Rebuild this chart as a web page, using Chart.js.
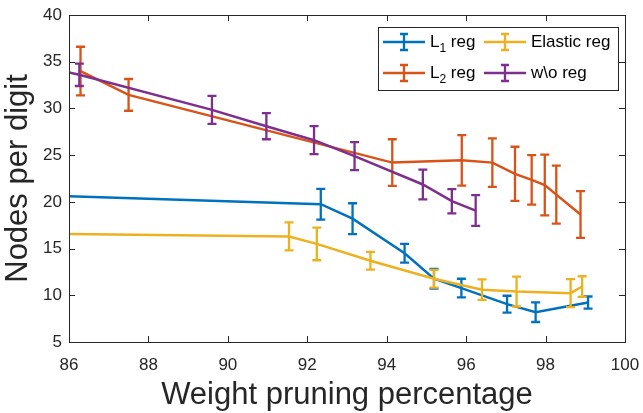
<!DOCTYPE html>
<html>
<head>
<meta charset="utf-8">
<script src="https://cdn.jsdelivr.net/npm/chart.js@4/dist/chart.umd.min.js"></script>
<style>
  html, body { margin: 0; padding: 0; background: #fff; }
</style>
</head>
<body>
<canvas id="chart" width="643" height="413"></canvas>
<script>
// ticks
const xTicks = [86, 88, 90, 92, 94, 96, 98, 100];
const yTicks = [5, 10, 15, 20, 25, 30, 35, 40];

// L1 reg
const l1X   = [86, 92.34, 93.14, 94.45, 95.19, 95.88, 97.03, 97.75, 99.07];
const l1Y   = [20.6, 19.75, 18.2, 14.5, 11.77, 10.77, 9.05, 8.19, 9.22];
const l1Err = [null, 1.65, 1.65, 1.0, 1.05, 1.0, 0.9, 1.05, 0.65];

// L2 reg
const l2X   = [86.29, 87.5, 94.14, 95.89, 96.66, 97.23, 97.65, 97.98, 98.27, 98.88];
const l2Y   = [34.0, 31.45, 24.2, 24.44, 24.2, 23.0, 22.35, 21.8, 20.77, 18.64];
const l2Err = [2.6, 1.7, 2.5, 2.7, 2.6, 2.9, 2.65, 3.25, 3.1, 2.5];

// Elastic reg
const elX   = [86, 91.54, 92.24, 93.59, 95.19, 96.4, 97.27, 98.63, 98.92];
const elY   = [16.57, 16.3, 15.5, 13.7, 11.77, 10.6, 10.4, 10.23, 10.94];
const elErr = [null, 1.5, 1.75, 0.95, 0.95, 1.1, 1.6, 1.5, 1.1];

// w\o reg
const woX   = [86, 86.26, 89.6, 90.97, 92.17, 93.19, 94.91, 95.64, 96.24];
const woY   = [33.86, 33.6, 29.85, 28.1, 26.6, 24.9, 21.86, 20.07, 19.07];
const woErr = [null, 1.2, 1.5, 1.4, 1.5, 1.5, 1.6, 1.3, 1.65];

const FONT = "'Liberation Sans', Arial, Helvetica, sans-serif";
const AXIS = '#262626';

function pts(xs, ys) {
  return xs.map((x, i) => ({ x: x, y: ys[i] }));
}

function series(label, color, xs, ys, errs, order) {
  return {
    label: label,
    data: pts(xs, ys),
    errs: errs,
    borderColor: color,
    backgroundColor: color,
    borderWidth: 2.5,
    pointRadius: 0,
    tension: 0,
    fill: false,
    order: order
  };
}

// error bars, drawn right after each dataset so the layering follows the lines
const errorBars = {
  id: 'errorBars',
  afterDatasetDraw(chart, args) {
    const ds = chart.data.datasets[args.index];
    if (!ds.errs) return;
    const { ctx, chartArea, scales } = chart;
    ctx.save();
    ctx.beginPath();
    ctx.rect(chartArea.left, chartArea.top, chartArea.right - chartArea.left, chartArea.bottom - chartArea.top);
    ctx.clip();
    ctx.strokeStyle = ds.borderColor;
    ctx.lineWidth = 2.3;
    ds.data.forEach((p, i) => {
      const e = ds.errs[i];
      if (e == null) return;
      const x = scales.x.getPixelForValue(p.x);
      const y1 = scales.y.getPixelForValue(p.y + e);
      const y2 = scales.y.getPixelForValue(p.y - e);
      ctx.beginPath();
      ctx.moveTo(x, y1); ctx.lineTo(x, y2);
      ctx.moveTo(x - 4.5, y1); ctx.lineTo(x + 4.5, y1);
      ctx.moveTo(x - 4.5, y2); ctx.lineTo(x + 4.5, y2);
      ctx.stroke();
    });
    ctx.restore();
  }
};

// box around the axes with inward ticks on all sides
const frame = {
  id: 'frame',
  afterDraw(chart) {
    const { ctx, chartArea: a, scales } = chart;
    ctx.save();
    ctx.strokeStyle = AXIS;
    ctx.lineWidth = 1;
    ctx.strokeRect(Math.round(a.left) + 0.5, Math.round(a.top) + 0.5,
      Math.round(a.right - a.left), Math.round(a.bottom - a.top));
    ctx.beginPath();
    xTicks.forEach(t => {
      const x = Math.round(scales.x.getPixelForValue(t)) + 0.5;
      ctx.moveTo(x, a.bottom); ctx.lineTo(x, a.bottom - 6);
      ctx.moveTo(x, a.top); ctx.lineTo(x, a.top + 6);
    });
    yTicks.forEach(t => {
      const y = Math.round(scales.y.getPixelForValue(t)) + 0.5;
      ctx.moveTo(a.left, y); ctx.lineTo(a.left + 6, y);
      ctx.moveTo(a.right, y); ctx.lineTo(a.right - 6, y);
    });
    ctx.stroke();
    ctx.restore();
  }
};

// legend box in the upper right, two columns
const boxLegend = {
  id: 'boxLegend',
  afterDraw(chart) {
    const { ctx, chartArea: a } = chart;
    const ds = chart.data.datasets;
    const right = a.right - 7, top = a.top + 12;
    const left = right - 240, bottom = top + 63;
    ctx.save();
    ctx.fillStyle = '#fff';
    ctx.fillRect(left, top, right - left, bottom - top);
    ctx.strokeStyle = '#262626';
    ctx.lineWidth = 1;
    ctx.strokeRect(Math.round(left) + 0.5, Math.round(top) + 0.5, right - left, bottom - top);

    const slots = [
      { i: 0, x: left + 5,   y: top + 15 },
      { i: 2, x: left + 106, y: top + 15 },
      { i: 1, x: left + 5,   y: top + 46 },
      { i: 3, x: left + 106, y: top + 46 }
    ];
    slots.forEach(s => {
      const d = ds[s.i];
      ctx.strokeStyle = d.borderColor;
      ctx.lineWidth = 2.5;
      ctx.beginPath();
      ctx.moveTo(s.x, s.y); ctx.lineTo(s.x + 42, s.y);
      ctx.stroke();
      const cx = s.x + 21;
      ctx.lineWidth = 2.3;
      ctx.beginPath();
      ctx.moveTo(cx, s.y - 8); ctx.lineTo(cx, s.y + 8);
      ctx.moveTo(cx - 4, s.y - 8); ctx.lineTo(cx + 4, s.y - 8);
      ctx.moveTo(cx - 4, s.y + 8); ctx.lineTo(cx + 4, s.y + 8);
      ctx.stroke();

      ctx.fillStyle = '#000';
      ctx.textBaseline = 'middle';
      ctx.textAlign = 'left';
      let tx = s.x + 47;
      const label = d.label;
      const sub = label.match(/^L(\d) (.*)$/);
      if (sub) {
        ctx.font = '17px ' + FONT;
        ctx.fillText('L', tx, s.y);
        tx += ctx.measureText('L').width;
        ctx.font = '12px ' + FONT;
        ctx.fillText(sub[1], tx, s.y + 7);
        tx += ctx.measureText(sub[1]).width;
        ctx.font = '17px ' + FONT;
        ctx.fillText(' ' + sub[2], tx, s.y);
      } else {
        ctx.font = '17px ' + FONT;
        ctx.fillText(label, tx, s.y);
      }
    });
    ctx.restore();
  }
};

new Chart(document.getElementById('chart'), {
  type: 'line',
  data: {
    datasets: [
      series('L1 reg', '#0072BD', l1X, l1Y, l1Err, 4),
      series('L2 reg', '#D95319', l2X, l2Y, l2Err, 3),
      series('Elastic reg', '#EDB120', elX, elY, elErr, 2),
      series('w\\o reg', '#7E2F8E', woX, woY, woErr, 1)
    ]
  },
  options: {
    responsive: false,
    animation: false,
    layout: { padding: { top: 15, right: 18, left: 0, bottom: 0 } },
    plugins: {
      legend: { display: false },
      tooltip: { enabled: false }
    },
    scales: {
      x: {
        type: 'linear',
        min: 86, max: 100,
        afterBuildTicks: s => { s.ticks = xTicks.map(v => ({ value: v })); },
        afterFit: s => { s.height = 71; s.paddingLeft = 0; s.paddingRight = 0; },
        grid: { display: false, drawTicks: false },
        border: { display: false },
        ticks: { color: AXIS, font: { family: FONT, size: 17 }, padding: 13, maxRotation: 0 },
        title: {
          display: true,
          text: 'Weight pruning percentage',
          color: AXIS,
          font: { family: FONT, size: 31, lineHeight: 1.1 },
          padding: 0
        }
      },
      y: {
        type: 'linear',
        min: 5, max: 40,
        afterBuildTicks: s => { s.ticks = yTicks.map(v => ({ value: v })); },
        afterFit: s => { s.width = 69; s.paddingTop = 0; s.paddingBottom = 0; },
        grid: { display: false, drawTicks: false },
        border: { display: false },
        ticks: { color: AXIS, font: { family: FONT, size: 17 }, padding: 7 },
        title: {
          display: true,
          text: 'Nodes per digit',
          color: AXIS,
          font: { family: FONT, size: 31, lineHeight: 1.1 },
          padding: { top: 1, bottom: 0 }
        }
      }
    }
  },
  plugins: [errorBars, frame, boxLegend]
});
</script>
</body>
</html>
